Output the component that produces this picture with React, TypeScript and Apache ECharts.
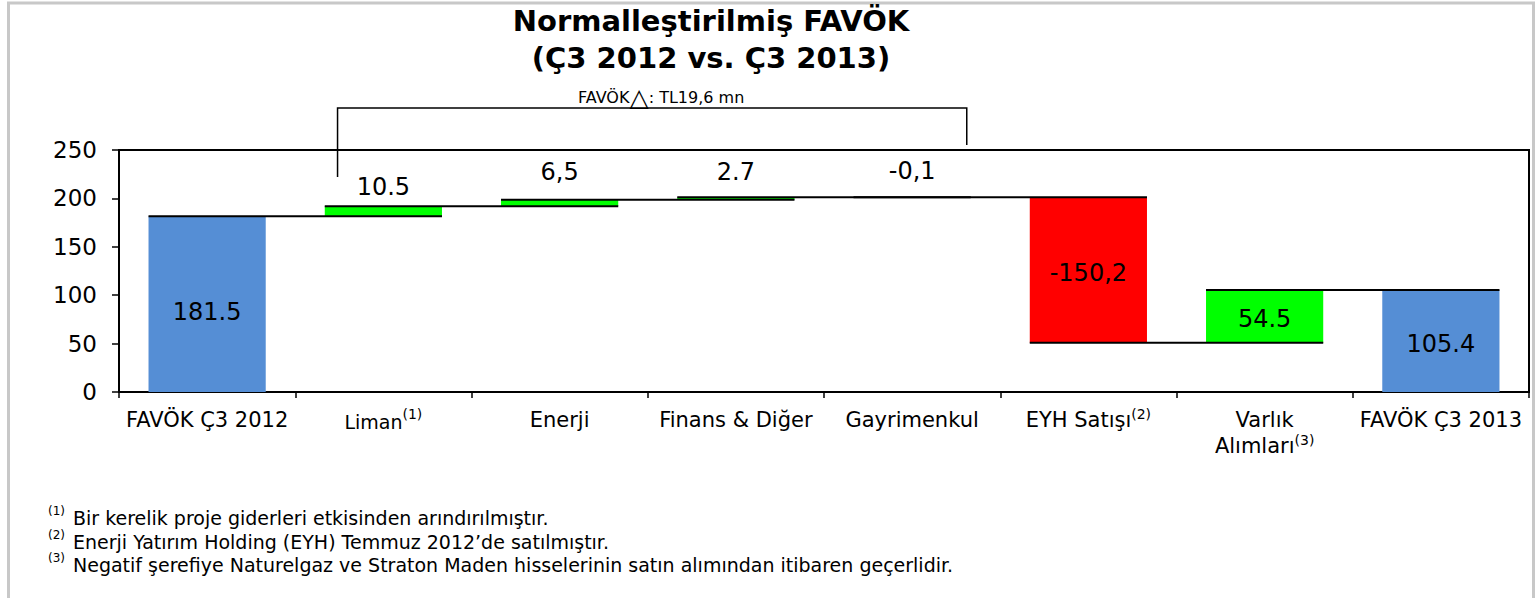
import React, { useEffect, useRef } from "react";
import * as echarts from "echarts";

// ---------- data ----------
const categories = [
  "FAVÖK Ç3 2012",
  "Liman",
  "Enerji",
  "Finans & Diğer",
  "Gayrimenkul",
  "EYH Satışı",
  "Varlık\nAlımları",
  "FAVÖK Ç3 2013",
];
const categoryNotes = ["", "(1)", "", "", "", "(2)", "(3)", ""];
const values = [181.5, 10.5, 6.5, 2.7, -0.1, -150.2, 54.5, 105.4];
const isTotal = [true, false, false, false, false, false, false, true];
const valueLabels = ["181.5", "10.5", "6,5", "2.7", "-0,1", "-150,2", "54.5", "105.4"];
const yTicks = [0, 50, 100, 150, 200, 250];
const titleLines = ["Normalleştirilmiş FAVÖK", "(Ç3 2012 vs. Ç3 2013)"];
const bracketParts = ["FAVÖK", "△", ": TL19,6 mn"];
const bracketFrom = 1; // Liman
const bracketTo = 4; // Gayrimenkul
const footnoteMarks = ["(1)", "(2)", "(3)"];
const footnotes = [
  "Bir kerelik proje giderleri etkisinden arındırılmıştır.",
  "Enerji Yatırım Holding (EYH) Temmuz 2012’de satılmıştır.",
  "Negatif şerefiye Naturelgaz ve Straton Maden hisselerinin satın alımından itibaren geçerlidir.",
];

// ---------- derived waterfall steps ----------
const steps: number[][] = [];
{
  let running = 0;
  values.forEach((v, i) => {
    if (isTotal[i]) {
      steps.push([i, 0, v]);
      running = v;
    } else {
      steps.push([i, running, running + v]);
      running = running + v;
    }
  });
}

// ---------- style ----------
const FONT = "DejaVu Sans";
const BLUE = "#558ed5";
const GREEN = "#00ff00";
const RED = "#ff0000";
const GRID = { left: 119, top: 150, right: 7, bottom: 206 };
const BAR_RATIO = 0.665;
const LABEL_LIFT = [0, 19, 28, 25, 26, 0, 0, 0];

export default function App() {
  const ref = useRef<HTMLDivElement>(null);

  useEffect(() => {
    if (!ref.current) return;
    const chart = echarts.init(ref.current, undefined, { renderer: "svg" });
    const n = steps.length;

    const option: any = {
      animation: false,
      backgroundColor: "#fff",
      title: {
        text: titleLines.join("\n"),
        left: 711,
        top: 2,
        padding: 0,
        textAlign: "center",
        textStyle: {
          fontFamily: FONT,
          fontSize: 29,
          fontWeight: "bold",
          color: "#000",
          lineHeight: 37,
        },
      },
      grid: {
        ...GRID,
        show: true,
        borderColor: "#000",
        borderWidth: 2,
        backgroundColor: "transparent",
        containLabel: false,
      },
      xAxis: {
        type: "category",
        data: categories,
        axisLine: { lineStyle: { color: "#000", width: 2 } },
        axisTick: { show: true, length: 6, lineStyle: { color: "#000", width: 1.5 } },
        axisLabel: {
          interval: 0,
          margin: 15,
          color: "#000",
          fontFamily: FONT,
          fontSize: 21,
          formatter: (v: string, idx: number) => {
            const lines = v.split("\n");
            const key = idx === 1 ? "k" : "m";
            return lines
              .map((ln, li) => {
                let s = `{${key}|${ln}}`;
                if (li === lines.length - 1 && categoryNotes[idx]) s += `{s|${categoryNotes[idx]}}`;
                return s;
              })
              .join("\n");
          },
          rich: {
            m: { fontFamily: FONT, fontSize: 21, color: "#000", lineHeight: 26 },
            k: { fontFamily: FONT, fontSize: 19, color: "#000", lineHeight: 26, padding: [4, 0, 0, 0] },
            s: { fontFamily: FONT, fontSize: 14, color: "#000", lineHeight: 16, verticalAlign: "top" },
          },
        },
      },
      yAxis: {
        type: "value",
        min: yTicks[0],
        max: yTicks[yTicks.length - 1],
        interval: yTicks[1] - yTicks[0],
        splitLine: { show: false },
        axisLine: { show: true, lineStyle: { color: "#000", width: 2 } },
        axisTick: { show: true, length: 7, lineStyle: { color: "#000", width: 1.5 } },
        axisLabel: { color: "#000", fontFamily: FONT, fontSize: 23, margin: 22 },
      },
      series: [
        {
          type: "custom",
          data: steps,
          encode: { x: 0, y: [1, 2] },
          renderItem: (params: any, api: any) => {
            const i = api.value(0);
            const s = api.value(1);
            const e = api.value(2);
            const cw = api.size([1, 0])[0];
            const bw = cw * BAR_RATIO;
            const pS = api.coord([i, s]);
            const pE = api.coord([i, e]);
            const x0 = pS[0] - bw / 2;
            const yTop = Math.min(pS[1], pE[1]);
            const yBot = Math.max(pS[1], pE[1]);
            const color = isTotal[i] ? BLUE : e >= s ? GREEN : RED;
            const children: any[] = [
              {
                type: "rect",
                z2: 1,
                shape: { x: x0, y: yTop, width: bw, height: Math.max(yBot - yTop, 0.5) },
                style: { fill: color },
              },
            ];
            if (i < n - 1) {
              const pN = api.coord([i + 1, e]);
              children.push({
                type: "line",
                z2: 10,
                shape: { x1: x0, y1: pE[1], x2: pN[0] + bw / 2, y2: pE[1] },
                style: { stroke: "#000", lineWidth: 2 },
              });
            }
            const inside = isTotal[i] || Math.abs(values[i]) > 30;
            const ly = inside ? (yTop + yBot) / 2 + (i === 0 ? 8 : 3) : yTop - LABEL_LIFT[i];
            children.push({
              type: "text",
              z2: 20,
              x: pS[0],
              y: ly,
              style: {
                text: valueLabels[i],
                fill: "#000",
                fontFamily: FONT,
                fontSize: 24,
                align: "center",
                verticalAlign: "middle",
                textAlign: "center",
                textVerticalAlign: "middle",
              },
            });
            return { type: "group", children };
          },
        },
      ],
      graphic: [
        {
          type: "rect",
          silent: true,
          shape: { x: 8.5, y: 3, width: 1525, height: 700 },
          style: { fill: "none", stroke: "#c8c8c8", lineWidth: 3 },
        },
        ...footnotes.flatMap((t, k) => [
          {
            type: "text",
            x: 48,
            y: 511 + k * 23.5,
            style: {
              text: footnoteMarks[k],
              fill: "#000",
              fontFamily: FONT,
              fontSize: 12,
              verticalAlign: "middle",
              textVerticalAlign: "middle",
            },
          },
          {
            type: "text",
            x: 73,
            y: 518 + k * 23.5,
            style: {
              text: t,
              fill: "#000",
              fontFamily: FONT,
              fontSize: 19,
              verticalAlign: "middle",
              textVerticalAlign: "middle",
            },
          },
        ]),
      ],
    };

    chart.setOption(option);

    // bracket annotation, positioned from the category axis
    const cw = (1536 - GRID.left - GRID.right) / categories.length;
    const xA = chart.convertToPixel({ xAxisIndex: 0 }, bracketFrom) as number;
    const xB = chart.convertToPixel({ xAxisIndex: 0 }, bracketTo) as number;
    const xL = xA - 0.26 * cw;
    const xR = xB + 0.31 * cw;
    const yH = GRID.top - 42;
    chart.setOption({
      graphic: [
        ...option.graphic,
        {
          type: "polyline",
          silent: true,
          shape: {
            points: [
              [xL, GRID.top + 27],
              [xL, yH],
              [xR, yH],
              [xR, GRID.top - 5],
            ],
          },
          style: { stroke: "#000", lineWidth: 1.5, fill: "none" },
        },
        {
          type: "text",
          x: (xL + xR) / 2 + 9,
          y: yH - 11,
          style: {
            text: `{a|${bracketParts[0]}}{t|${bracketParts[1]}}{a|${bracketParts[2]}}`,
            align: "center",
            verticalAlign: "middle",
            textAlign: "center",
            textVerticalAlign: "middle",
            rich: {
              a: { fontFamily: FONT, fontSize: 16, fill: "#000", color: "#000" },
              t: { fontFamily: FONT, fontSize: 25, fill: "#000", color: "#000" },
            },
          },
        },
      ],
    });

    return () => chart.dispose();
  }, []);

  return (
    <div
      ref={ref}
      style={{ position: "absolute", left: 0, top: 0, width: 1536, height: 598 }}
    />
  );
}
